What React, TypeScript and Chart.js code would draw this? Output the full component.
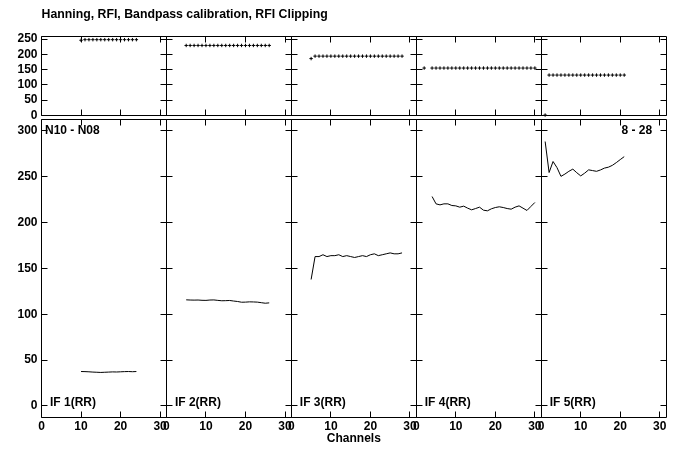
import React, { useEffect, useRef } from 'react';
import { Chart, registerables } from 'chart.js';

Chart.register(...registerables);

const TITLE = 'Hanning, RFI, Bandpass calibration, RFI Clipping';
const X_TITLE = 'Channels';
const IF_LABELS = ['IF 1(RR)', 'IF 2(RR)', 'IF 3(RR)', 'IF 4(RR)', 'IF 5(RR)'];
const BASELINE_LABEL = 'N10 - N08';
const TIME_LABEL = '8 - 28';

// ---- IF 1 ----
const IF1_TOP_CH = [10, 11, 12, 13, 14, 15, 16, 17, 18, 19, 20, 21, 22, 23, 24];
const IF1_TOP = [246, 248, 248, 248, 248, 248, 248, 248, 248, 248, 248, 248, 248, 248, 248];
const IF1_CH = [10, 11, 12, 13, 14, 15, 16, 17, 18, 19, 20, 21, 22, 23, 24];
const IF1_AMP = [37.6, 37.5, 37.3, 37.0, 36.8, 36.6, 36.8, 37.0, 37.2, 37.1, 37.3, 37.5, 37.6, 37.4, 37.6];

// ---- IF 2 ----
const IF2_TOP_CH = [5, 6, 7, 8, 9, 10, 11, 12, 13, 14, 15, 16, 17, 18, 19, 20, 21, 22, 23, 24, 25, 26];
const IF2_TOP = [229, 229, 229, 229, 229, 229, 229, 229, 229, 229, 229, 229, 229, 229, 229, 229, 229, 229, 229, 229, 229, 229];
const IF2_CH = [5, 6, 7, 8, 9, 10, 11, 12, 13, 14, 15, 16, 17, 18, 19, 20, 21, 22, 23, 24, 25, 26];
const IF2_AMP = [115.8, 115.6, 115.5, 115.6, 115.3, 115.2, 115.6, 115.7, 115.2, 114.8, 114.9, 115.1, 114.5, 114.0, 113.2, 113.3, 113.6, 113.5, 113.3, 112.7, 112.1, 112.5];

// ---- IF 3 ----
const IF3_TOP_CH = [5, 6, 7, 8, 9, 10, 11, 12, 13, 14, 15, 16, 17, 18, 19, 20, 21, 22, 23, 24, 25, 26, 27, 28];
const IF3_TOP = [186, 194, 194, 194, 194, 194, 194, 194, 194, 194, 194, 194, 194, 194, 194, 194, 194, 194, 194, 194, 194, 194, 194, 194];
const IF3_CH = [5, 6, 7, 8, 9, 10, 11, 12, 13, 14, 15, 16, 17, 18, 19, 20, 21, 22, 23, 24, 25, 26, 27, 28];
const IF3_AMP = [138, 163, 163, 165, 163, 164, 164, 165, 163, 164, 163, 162, 163, 164, 163, 165, 166, 164, 165, 166, 167, 166, 166, 167];

// ---- IF 4 ----
const IF4_TOP_CH = [2, 4, 5, 6, 7, 8, 9, 10, 11, 12, 13, 14, 15, 16, 17, 18, 19, 20, 21, 22, 23, 24, 25, 26, 27, 28, 29, 30];
const IF4_TOP = [155, 155, 155, 155, 155, 155, 155, 155, 155, 155, 155, 155, 155, 155, 155, 155, 155, 155, 155, 155, 155, 155, 155, 155, 155, 155, 155, 155];
const IF4_CH = [4, 5, 6, 7, 8, 9, 10, 11, 12, 13, 14, 15, 16, 17, 18, 19, 20, 21, 22, 23, 24, 25, 26, 27, 28, 29, 30];
const IF4_AMP = [228.5, 220.5, 219.4, 220.5, 220.5, 218.7, 218.3, 216.9, 218.0, 215.8, 214.0, 215.4, 216.9, 213.6, 212.9, 215.1, 216.5, 217.3, 216.5, 215.4, 214.7, 216.9, 218.3, 215.8, 213.3, 217.7, 222.0];

// ---- IF 5 ----
const IF5_TOP_CH = [1, 2, 3, 4, 5, 6, 7, 8, 9, 10, 11, 12, 13, 14, 15, 16, 17, 18, 19, 20, 21];
const IF5_TOP = [1, 132, 132, 132, 132, 132, 132, 132, 132, 132, 132, 132, 132, 132, 132, 132, 132, 132, 132, 132, 132];
const IF5_CH = [1, 2, 3, 4, 5, 6, 7, 8, 9, 10, 11, 12, 13, 14, 15, 16, 17, 18, 19, 20, 21];
const IF5_AMP = [288.5, 254.7, 266.7, 260.0, 250.5, 253.0, 256.0, 258.4, 254.5, 251.0, 254.0, 257.6, 256.8, 256.0, 257.5, 259.5, 260.5, 262.5, 265.5, 268.8, 272.0];

const TOP_CH = [IF1_TOP_CH, IF2_TOP_CH, IF3_TOP_CH, IF4_TOP_CH, IF5_TOP_CH];
const TOP_VAL = [IF1_TOP, IF2_TOP, IF3_TOP, IF4_TOP, IF5_TOP];
const AMP_CH = [IF1_CH, IF2_CH, IF3_CH, IF4_CH, IF5_CH];
const AMP_VAL = [IF1_AMP, IF2_AMP, IF3_AMP, IF4_AMP, IF5_AMP];

const X_IDS = ['x1', 'x2', 'x3', 'x4', 'x5'];
const FAMILY = '"Liberation Sans", Arial, Helvetica, sans-serif';
const tickFont = { family: FAMILY, size: 12, weight: 'bold' as const };

const framePlugin = {
  id: 'aipsFrame',
  afterDatasetsDraw(chart: any) {
    const ctx = chart.ctx as CanvasRenderingContext2D;
    const yT = chart.scales.yTop;
    const yB = chart.scales.yBot;
    const r = (v: number) => Math.round(v - 0.5) + 0.5;
    const split = (yT.bottom + yB.top) / 2;
    const rows = [
      { ys: yT, top: r(yT.top), bottom: r(split - 2) },
      { ys: yB, top: r(split + 2), bottom: r(yB.bottom) },
    ];
    const TL = 6;
    ctx.save();
    ctx.strokeStyle = '#000';
    ctx.lineWidth = 1;
    X_IDS.forEach((id) => {
      const xs = chart.scales[id];
      const L = r(xs.left);
      const R = r(xs.right);
      rows.forEach((row) => {
        ctx.beginPath();
        ctx.rect(L, row.top, R - L, row.bottom - row.top);
        row.ys.ticks.forEach((t: any) => {
          const py = r(row.ys.getPixelForValue(t.value));
          ctx.moveTo(L, py);
          ctx.lineTo(L + TL, py);
          ctx.moveTo(R, py);
          ctx.lineTo(R - TL, py);
        });
        xs.ticks.forEach((t: any) => {
          const px = r(xs.getPixelForValue(t.value));
          ctx.moveTo(px, row.top);
          ctx.lineTo(px, row.top + TL);
          ctx.moveTo(px, row.bottom);
          ctx.lineTo(px, row.bottom - TL);
        });
        ctx.stroke();
      });
    });
    ctx.fillStyle = '#000';
    ctx.font = `bold 12px ${FAMILY}`;
    ctx.textBaseline = 'middle';
    const x1 = chart.scales.x1;
    const x5 = chart.scales.x5;
    const labelY = rows[1].top + 11;
    ctx.textAlign = 'left';
    ctx.fillText(BASELINE_LABEL, x1.left + 3.5, labelY);
    ctx.textAlign = 'right';
    ctx.fillText(TIME_LABEL, x5.right - 14, labelY);
    ctx.textAlign = 'left';
    const zeroY = yB.getPixelForValue(0) - 3;
    X_IDS.forEach((id, i) => {
      const xs = chart.scales[id];
      ctx.fillText(IF_LABELS[i], xs.left + 8.5, zeroY);
    });
    ctx.restore();
  },
};

function makeXAxis(i: number) {
  return {
    type: 'linear',
    position: 'bottom',
    stack: 'xs',
    stackWeight: 1,
    weight: i + 1,
    min: 0,
    max: 31.6,
    afterFit: (s: any) => {
      s.height = 33;
    },
    grid: { display: false, drawTicks: false },
    border: { display: false },
    ticks: {
      stepSize: 10,
      includeBounds: false,
      autoSkip: false,
      maxRotation: 0,
      padding: 2.5,
      font: tickFont,
      color: '#000',
    },
    title: {
      display: i === 2,
      text: X_TITLE,
      font: tickFont,
      color: '#000',
      padding: { top: 0, bottom: 4.5 },
    },
  };
}

export default function App() {
  const ref = useRef<HTMLCanvasElement>(null);
  useEffect(() => {
    if (!ref.current) return;
    const datasets: any[] = [];
    for (let i = 0; i < 5; i++) {
      datasets.push({
        label: IF_LABELS[i] + ' amp',
        data: AMP_CH[i].map((c, k) => ({ x: c, y: AMP_VAL[i][k] })),
        xAxisID: X_IDS[i],
        yAxisID: 'yBot',
        borderColor: '#000',
        borderWidth: 1,
        pointRadius: 0,
        tension: 0,
        fill: false,
      });
      datasets.push({
        label: IF_LABELS[i] + ' top',
        data: TOP_CH[i].map((c, k) => ({ x: c, y: TOP_VAL[i][k] })),
        xAxisID: X_IDS[i],
        yAxisID: 'yTop',
        showLine: false,
        borderColor: '#000',
        backgroundColor: '#000',
        borderWidth: 1,
        pointStyle: 'cross',
        pointRadius: 1.7,
        pointHoverRadius: 1.7,
      });
    }
    const scales: any = {
      yTop: {
        type: 'linear',
        position: 'left',
        stack: 'ys',
        stackWeight: 81.5,
        weight: 2,
        min: -7,
        max: 260,
        afterFit: (s: any) => {
          s.width = 41.5;
        },
        grid: { display: false, drawTicks: false },
        border: { display: false },
        ticks: { stepSize: 50, includeBounds: false, autoSkip: false, padding: 4, font: tickFont, color: '#000' },
      },
      yBot: {
        type: 'linear',
        position: 'left',
        stack: 'ys',
        stackWeight: 299.5,
        weight: 1,
        min: -12,
        max: 314.7,
        afterFit: (s: any) => {
          s.width = 41.5;
        },
        grid: { display: false, drawTicks: false },
        border: { display: false },
        ticks: { stepSize: 50, includeBounds: false, autoSkip: false, padding: 4, font: tickFont, color: '#000' },
      },
    };
    X_IDS.forEach((id, i) => {
      scales[id] = makeXAxis(i);
    });
    const titleSize = 12.3;
    const chart = new Chart(ref.current, {
      type: 'line',
      data: { datasets },
      options: {
        responsive: false,
        animation: false,
        devicePixelRatio: 1,
        events: [],
        layout: { padding: { left: 0, right: 7.5, top: 0, bottom: 0 } },
        plugins: {
          legend: { display: false },
          tooltip: { enabled: false },
          title: {
            display: true,
            text: TITLE,
            align: 'start',
            fullSize: false,
            color: '#000',
            font: { family: FAMILY, size: titleSize, weight: 'bold' },
            padding: { top: 7, bottom: 36 - 7 - titleSize * 1.2 },
          },
        },
        scales,
      } as any,
      plugins: [framePlugin],
    });
    return () => chart.destroy();
  }, []);
  return (
    <div style={{ position: 'fixed', left: 0, top: 0, width: 674, height: 450, background: '#fff' }}>
      <canvas ref={ref} width={674} height={450} style={{ display: 'block', width: 674, height: 450 }} />
    </div>
  );
}
